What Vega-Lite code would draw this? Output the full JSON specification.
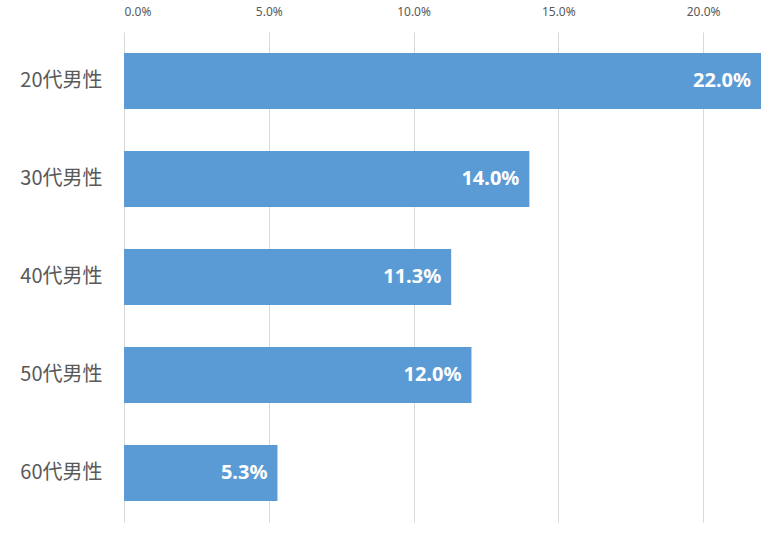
{
  "$schema": "https://vega.github.io/schema/vega-lite/v6.json",
  "autosize": {"type": "none"},
  "padding": {"left": 124, "top": 32, "right": 9, "bottom": 14},
  "width": 637,
  "height": 490,
  "background": "white",
  "data": {"values": [
    {"group": "20代男性", "rate": 0.22},
    {"group": "30代男性", "rate": 0.14},
    {"group": "40代男性", "rate": 0.113},
    {"group": "50代男性", "rate": 0.12},
    {"group": "60代男性", "rate": 0.053}
  ]},
  "encoding": {
    "y": {"field": "group", "type": "nominal", "sort": null, "title": null,
      "scale": {"paddingInner": 0.43, "paddingOuter": 0.215},
      "axis": {"domain": false, "ticks": false, "labelFontSize": 20, "labelColor": "#595959", "labelPadding": 22, "labelFont": "Noto Sans CJK JP"}},
    "x": {"field": "rate", "type": "quantitative", "title": null,
      "scale": {"domain": [0, 0.22], "nice": false, "clamp": true},
      "axis": {"orient": "top", "format": ".1%", "values": [0, 0.05, 0.1, 0.15, 0.2], "domain": false, "ticks": false, "labelFontSize": 12, "labelColor": "#595959", "labelPadding": 14, "gridColor": "#d9d9d9", "labelFont": "Noto Sans"}}
  },
  "layer": [
    {"mark": {"type": "bar", "color": "#5B9BD5"}},
    {"mark": {"type": "text", "align": "right", "dx": -10, "color": "white", "fontSize": 20, "fontWeight": "bold", "font": "Noto Sans"},
      "encoding": {"text": {"field": "rate", "type": "quantitative", "format": ".1%"}}}
  ],
  "config": {"view": {"stroke": null}}
}
